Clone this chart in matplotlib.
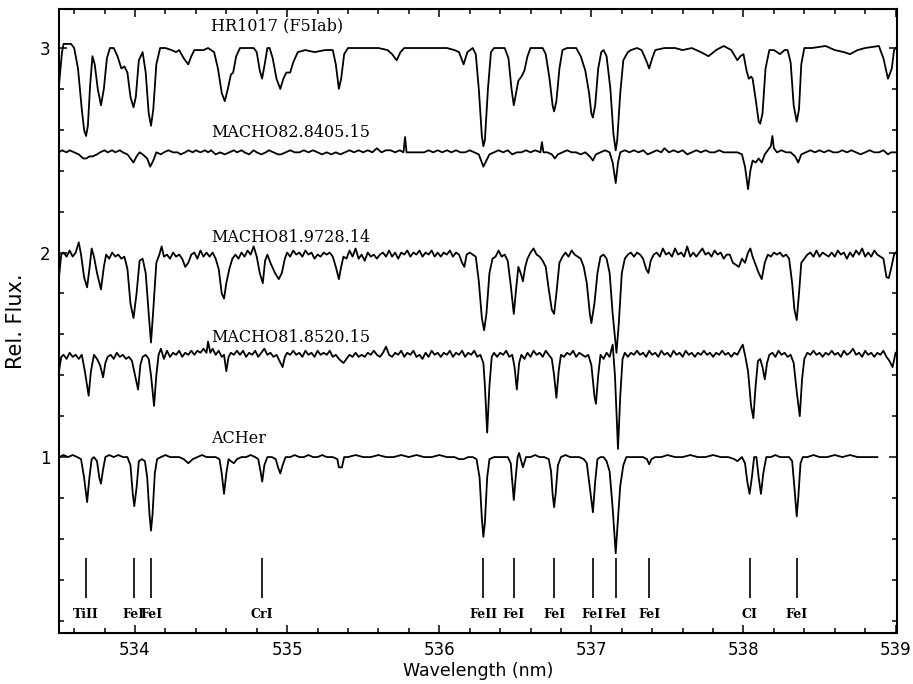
import matplotlib
matplotlib.use("Agg")
import matplotlib.pyplot as plt
from matplotlib.ticker import MultipleLocator

# HR1017 (F5Iab), continuum near 3.0
hr1017_wl = [
    533.50, 533.52, 533.53, 533.58, 533.60, 533.625, 533.65, 533.665, 533.678, 533.69,
    533.705, 533.72, 533.735, 533.755, 533.776, 533.795, 533.815, 533.835, 533.86, 533.885,
    533.91, 533.93, 533.95, 533.97, 533.99, 534.005, 534.025, 534.05, 534.07, 534.09,
    534.105, 534.12, 534.14, 534.165, 534.20, 534.24, 534.27, 534.29, 534.32, 534.35,
    534.37, 534.39, 534.45, 534.48, 534.52, 534.545, 534.57, 534.59, 534.61, 534.63,
    534.645, 534.665, 534.69, 534.74, 534.78, 534.80, 534.82, 534.835, 534.85, 534.87,
    534.885, 534.905, 534.93, 534.955, 534.975, 534.995, 535.02, 535.04, 535.07, 535.12,
    535.18, 535.25, 535.30, 535.32, 535.34, 535.355, 535.375, 535.40, 535.50, 535.60,
    535.66, 535.69, 535.72, 535.745, 535.77, 535.85, 535.95, 536.05, 536.10, 536.13,
    536.16, 536.185, 536.22, 536.24, 536.26, 536.28, 536.29, 536.30, 536.32, 536.34,
    536.36, 536.43, 536.455, 536.475, 536.49, 536.505, 536.52, 536.54, 536.56, 536.58,
    536.60, 536.68, 536.70, 536.725, 536.745, 536.755, 536.77, 536.79, 536.81, 536.84,
    536.90, 536.93, 536.96, 536.985, 537.00, 537.01, 537.025, 537.045, 537.065, 537.08,
    537.10, 537.125, 537.145, 537.16, 537.17, 537.19, 537.21, 537.24, 537.26, 537.30,
    537.33, 537.36, 537.38, 537.40, 537.42, 537.48, 537.55, 537.60, 537.66, 537.72,
    537.77, 537.82, 537.87, 537.92, 537.96, 537.98, 538.00, 538.02, 538.035, 538.05,
    538.06, 538.08, 538.10, 538.11, 538.125, 538.145, 538.17, 538.20, 538.24, 538.27,
    538.29, 538.31, 538.33, 538.35, 538.365, 538.38, 538.40, 538.45, 538.54, 538.60,
    538.66, 538.70, 538.75, 538.80, 538.89, 538.92, 538.95, 538.975, 538.99, 539.00,
]
hr1017_flux = [
    2.82, 2.98, 3.02, 3.02, 3.00, 2.90, 2.70, 2.60, 2.57, 2.62,
    2.82, 2.96, 2.92, 2.80, 2.72, 2.80, 2.95, 3.00, 3.00, 2.96,
    2.90, 2.91, 2.88, 2.76, 2.71, 2.76, 2.94, 2.98, 2.88, 2.68,
    2.62, 2.70, 2.92, 3.00, 3.00, 2.99, 2.98, 2.99, 2.95, 2.92,
    2.96, 2.99, 2.99, 3.00, 2.98, 2.90, 2.78, 2.74, 2.80, 2.87,
    2.88, 2.96, 3.00, 3.00, 3.00, 2.98, 2.89, 2.85, 2.91, 3.00,
    3.00, 2.95, 2.85, 2.80, 2.85, 2.88, 2.88, 2.93, 2.98, 2.99,
    2.98, 2.99, 2.99, 2.92, 2.80, 2.85, 2.97, 3.00, 3.00, 3.00,
    2.99, 2.97, 2.94, 2.98, 3.00, 3.00, 3.00, 3.00, 2.99, 2.98,
    2.92, 2.98, 3.00, 2.97, 2.80, 2.57, 2.52, 2.55, 2.80, 2.98,
    3.00, 3.00, 2.95, 2.80, 2.72, 2.78, 2.84, 2.86, 2.89, 2.96,
    3.00, 3.00, 2.97, 2.85, 2.72, 2.69, 2.74, 2.90, 2.99, 3.00,
    3.00, 2.96, 2.89, 2.78, 2.68, 2.66, 2.72, 2.90, 2.98, 2.99,
    2.96, 2.80, 2.58, 2.50, 2.55, 2.78, 2.94, 2.98, 2.99, 3.00,
    2.99, 2.94, 2.90, 2.95, 2.99, 3.00, 3.00, 2.99, 3.00, 2.98,
    2.96, 2.99, 3.01, 2.99, 2.94, 2.96, 2.97, 2.89, 2.85, 2.86,
    2.85, 2.75, 2.64, 2.63, 2.68, 2.90, 2.99, 2.99, 2.97, 2.99,
    2.99, 2.93, 2.72, 2.64, 2.70, 2.92, 3.00, 3.00, 3.01, 2.99,
    2.98, 2.97, 2.99, 3.00, 3.01, 2.95, 2.85, 2.90, 2.99, 3.00,
]

# MACHO82.8405.15, continuum near 2.49
m82_wl = [
    533.50, 533.52, 533.55, 533.57, 533.60, 533.63, 533.66, 533.68, 533.70, 533.72,
    533.75, 533.77, 533.80, 533.82, 533.85, 533.87, 533.90, 533.92, 533.95, 533.97,
    533.99, 534.01, 534.03, 534.05, 534.08, 534.10, 534.12, 534.14, 534.17, 534.19,
    534.22, 534.25, 534.28, 534.30, 534.33, 534.35, 534.38, 534.40, 534.43, 534.46,
    534.48, 534.50, 534.53, 534.56, 534.59, 534.62, 534.65, 534.67, 534.70, 534.72,
    534.75, 534.78, 534.80, 534.83, 534.86, 534.88, 534.91, 534.94, 534.96, 534.99,
    535.02, 535.05, 535.08, 535.11, 535.14, 535.17, 535.20, 535.23, 535.26, 535.29,
    535.32, 535.35, 535.38, 535.41, 535.44, 535.47, 535.50, 535.53, 535.56, 535.59,
    535.62, 535.65, 535.68, 535.71, 535.74, 535.765, 535.775, 535.785, 535.81, 535.84,
    535.87, 535.90, 535.93, 535.96, 535.99, 536.02, 536.05, 536.08, 536.11, 536.14,
    536.17, 536.20, 536.23, 536.26, 536.28, 536.29, 536.31, 536.33, 536.36, 536.39,
    536.42, 536.45, 536.48, 536.51, 536.54, 536.57, 536.60, 536.63, 536.665, 536.675,
    536.685, 536.71, 536.74, 536.76, 536.78, 536.81, 536.84, 536.87, 536.90, 536.93,
    536.96, 536.99, 537.01, 537.03, 537.06, 537.09, 537.12, 537.14, 537.16, 537.175,
    537.19, 537.22, 537.25, 537.28, 537.31, 537.34, 537.37, 537.40, 537.43, 537.46,
    537.48, 537.51, 537.54, 537.57, 537.60, 537.63, 537.66, 537.69, 537.72, 537.75,
    537.78, 537.81, 537.84, 537.87, 537.90, 537.93, 537.96, 537.99, 538.01, 538.03,
    538.045, 538.06, 538.08, 538.10, 538.12, 538.14, 538.16, 538.18, 538.19, 538.20,
    538.22, 538.25, 538.28, 538.31, 538.34, 538.36, 538.38, 538.41, 538.44, 538.47,
    538.50, 538.53, 538.56, 538.59, 538.62, 538.65, 538.68, 538.71, 538.74, 538.77,
    538.80, 538.83, 538.86, 538.89, 538.92, 538.95, 538.97, 539.00,
]
m82_flux = [
    2.49, 2.50, 2.49, 2.50, 2.49, 2.48, 2.46, 2.46, 2.47, 2.47,
    2.48, 2.49, 2.50, 2.49, 2.50, 2.49, 2.50, 2.49, 2.48, 2.46,
    2.44, 2.47, 2.49, 2.48, 2.46, 2.42, 2.45, 2.49, 2.48, 2.49,
    2.50, 2.49, 2.49, 2.48, 2.49, 2.50, 2.49, 2.50, 2.49, 2.50,
    2.49, 2.50, 2.48, 2.49, 2.48, 2.49, 2.50, 2.49, 2.50, 2.49,
    2.48, 2.50, 2.49, 2.48, 2.49, 2.50, 2.49, 2.48, 2.48, 2.49,
    2.50, 2.49, 2.49, 2.50, 2.49, 2.50, 2.49, 2.48, 2.49, 2.48,
    2.49, 2.48, 2.49, 2.50, 2.49, 2.50, 2.49, 2.50, 2.49, 2.51,
    2.49, 2.50, 2.50, 2.49, 2.50, 2.49, 2.565, 2.49, 2.49, 2.49,
    2.49, 2.49, 2.50, 2.49, 2.50, 2.49, 2.50, 2.49, 2.50, 2.49,
    2.49, 2.50, 2.49, 2.48, 2.44, 2.42, 2.45, 2.48, 2.49, 2.50,
    2.49, 2.50, 2.48, 2.49, 2.49, 2.50, 2.49, 2.50, 2.49, 2.54,
    2.49, 2.49, 2.48, 2.46, 2.48, 2.49, 2.50, 2.49, 2.49, 2.48,
    2.49, 2.47, 2.45, 2.48, 2.49, 2.50, 2.49, 2.44, 2.34, 2.44,
    2.49, 2.50, 2.49, 2.50, 2.49, 2.50, 2.48, 2.49, 2.50, 2.49,
    2.51, 2.49, 2.50, 2.49, 2.50, 2.48, 2.49, 2.50, 2.49, 2.50,
    2.49, 2.49, 2.50, 2.49, 2.49, 2.49, 2.49, 2.48, 2.42, 2.31,
    2.40, 2.45, 2.44, 2.46, 2.44, 2.48, 2.50, 2.52, 2.57, 2.51,
    2.49, 2.50, 2.49, 2.49, 2.47, 2.44, 2.48, 2.49, 2.50, 2.49,
    2.50, 2.49, 2.50, 2.49, 2.49, 2.50, 2.49, 2.50, 2.49, 2.48,
    2.49, 2.50, 2.49, 2.49, 2.50, 2.48, 2.49, 2.49,
]

# MACHO81.9728.14, continuum near 2.0
m9728_wl = [
    533.50, 533.515, 533.53, 533.55, 533.57, 533.59, 533.61, 533.63, 533.645, 533.665,
    533.685, 533.70, 533.715, 533.73, 533.75, 533.776, 533.795, 533.81, 533.83, 533.85,
    533.87, 533.89, 533.91, 533.93, 533.95, 533.97, 533.99, 534.01, 534.03, 534.05,
    534.07, 534.09, 534.105, 534.12, 534.14, 534.16, 534.175, 534.19, 534.21, 534.23,
    534.25, 534.27, 534.29, 534.31, 534.33, 534.35, 534.37, 534.39, 534.41, 534.43,
    534.45, 534.47, 534.49, 534.51, 534.53, 534.55, 534.57, 534.585, 534.60, 534.62,
    534.64, 534.66, 534.68, 534.70, 534.72, 534.74, 534.76, 534.78, 534.80, 534.82,
    534.84, 534.855, 534.87, 534.89, 534.92, 534.945, 534.965, 534.985, 535.00, 535.02,
    535.04, 535.06, 535.08, 535.10, 535.12, 535.14, 535.16, 535.18, 535.20, 535.22,
    535.24, 535.26, 535.28, 535.30, 535.32, 535.34, 535.355, 535.37, 535.39, 535.41,
    535.43, 535.45, 535.47, 535.49, 535.51, 535.53, 535.55, 535.57, 535.59, 535.61,
    535.63, 535.65, 535.67, 535.69, 535.71, 535.73, 535.75, 535.77, 535.79, 535.81,
    535.83, 535.85, 535.87, 535.89, 535.91, 535.93, 535.95, 535.97, 535.99, 536.01,
    536.03, 536.05, 536.07, 536.09, 536.11, 536.13, 536.15, 536.165, 536.18, 536.20,
    536.22, 536.24, 536.26, 536.28, 536.295, 536.31, 536.33, 536.35, 536.37, 536.39,
    536.41, 536.43, 536.45, 536.47, 536.49, 536.505, 536.52, 536.535, 536.55, 536.565,
    536.58, 536.60, 536.62, 536.64, 536.66, 536.68, 536.70, 536.72, 536.74, 536.755,
    536.77, 536.79, 536.81, 536.83, 536.85, 536.87, 536.89, 536.91, 536.93, 536.95,
    536.97, 536.99, 537.00, 537.02, 537.04, 537.06, 537.08, 537.10, 537.12, 537.14,
    537.165, 537.18, 537.20, 537.22, 537.24, 537.26, 537.28, 537.30, 537.32, 537.34,
    537.36, 537.375, 537.39, 537.41, 537.43, 537.45, 537.47, 537.49, 537.51, 537.53,
    537.55, 537.57, 537.59, 537.61, 537.63, 537.65, 537.67, 537.69, 537.71, 537.73,
    537.75, 537.77, 537.79, 537.81, 537.83, 537.85, 537.87, 537.89, 537.91, 537.93,
    537.95, 537.97, 537.99, 538.01, 538.03, 538.045, 538.06, 538.08, 538.10, 538.12,
    538.14, 538.16, 538.18, 538.20, 538.22, 538.24, 538.26, 538.28, 538.30, 538.32,
    538.335, 538.35, 538.365, 538.38, 538.40, 538.42, 538.44, 538.46, 538.48, 538.50,
    538.52, 538.54, 538.56, 538.58, 538.60, 538.62, 538.64, 538.66, 538.68, 538.70,
    538.72, 538.74, 538.76, 538.78, 538.80, 538.82, 538.84, 538.86, 538.88, 538.90,
    538.92, 538.94, 538.955, 538.97, 538.99, 539.00,
]
m9728_flux = [
    1.88, 1.99, 2.00, 1.98, 2.01, 1.98, 2.00, 2.05, 1.99, 1.88,
    1.83, 1.92, 2.02, 1.98, 1.90, 1.82, 1.93, 1.99, 1.97, 2.00,
    1.98, 1.99, 1.97, 1.98, 1.92, 1.75, 1.68, 1.80, 1.96, 1.97,
    1.90, 1.70, 1.56, 1.72, 1.95, 1.99, 2.03, 1.98, 1.99, 1.97,
    2.00, 1.98, 1.99, 1.97, 1.93, 1.95, 1.99, 2.00, 1.97, 2.01,
    1.98, 2.00, 1.98, 2.00, 1.97, 1.92, 1.80, 1.775, 1.85, 1.92,
    1.97, 1.99, 1.97, 2.00, 1.98, 2.01, 1.99, 2.03, 1.98, 1.90,
    1.85, 1.96, 1.99, 1.95, 1.90, 1.87, 1.90, 1.97, 2.00, 1.98,
    2.01, 1.99, 2.00, 1.98, 2.01, 1.99, 2.00, 1.97, 1.99, 1.98,
    2.00, 1.99, 2.00, 1.98, 1.93, 1.87, 1.93, 1.98, 1.97, 2.01,
    1.98, 2.02, 1.97, 1.99, 1.96, 2.00, 1.98, 1.99, 1.97, 1.99,
    2.00, 1.98, 2.01, 1.98, 2.00, 1.97, 2.00, 1.99, 2.01, 1.98,
    2.00, 1.99, 2.01, 1.98, 2.00, 1.99, 2.01, 1.98, 2.00, 1.98,
    2.00, 1.99, 2.01, 1.98, 2.00, 1.99, 1.95, 1.93, 1.99, 2.00,
    1.99, 1.98, 1.86, 1.68, 1.62, 1.70, 1.90, 1.97, 1.98, 2.01,
    1.98, 1.99, 1.96, 1.84, 1.70, 1.82, 1.93, 1.90, 1.86, 1.93,
    1.97, 2.00, 2.02, 1.99, 1.98, 1.96, 1.93, 1.82, 1.72, 1.70,
    1.80, 1.95, 1.98, 2.00, 1.98, 2.01, 1.99, 1.98, 1.97, 1.93,
    1.85, 1.70, 1.655, 1.75, 1.90, 1.98, 1.99, 1.97, 1.90, 1.70,
    1.51, 1.65, 1.90, 1.97, 1.99, 2.00, 1.98, 2.00, 1.99, 1.97,
    1.92, 1.90, 1.96, 1.99, 2.00, 1.98, 2.02, 1.99, 2.00, 1.98,
    2.02, 1.99, 2.00, 1.98, 2.03, 1.98, 2.00, 1.98, 2.00, 2.02,
    1.99, 2.00, 1.98, 2.01, 1.99, 2.00, 1.97, 1.99, 1.99, 1.95,
    1.94, 1.93, 1.97, 1.95, 2.00, 2.02, 1.98, 1.94, 1.90, 1.87,
    1.95, 1.99, 1.98, 2.00, 1.99, 2.00, 1.98, 1.99, 1.97, 1.85,
    1.72, 1.67, 1.80, 1.95, 1.97, 1.99, 2.00, 1.98, 2.01, 1.98,
    2.00, 1.99, 1.98, 2.00, 1.98, 2.01, 1.99, 2.00, 1.97, 2.00,
    1.98, 2.01, 1.99, 2.02, 1.98, 2.00, 1.98, 2.01, 1.99, 1.98,
    1.97, 1.88, 1.875, 1.92, 1.99, 2.00,
]

# MACHO81.8520.15, continuum near 1.5
m8520_wl = [
    533.50, 533.515, 533.53, 533.55, 533.57, 533.59, 533.61, 533.63, 533.65, 533.67,
    533.695, 533.71, 533.73, 533.75, 533.77, 533.79, 533.805, 533.82, 533.84, 533.86,
    533.88, 533.90, 533.92, 533.94, 533.96, 533.98, 534.00, 534.02, 534.035, 534.05,
    534.07, 534.09, 534.105, 534.125, 534.14, 534.155, 534.17, 534.19, 534.21, 534.23,
    534.25, 534.27, 534.29, 534.31, 534.33, 534.35, 534.37, 534.39, 534.41, 534.43,
    534.45, 534.47, 534.48, 534.495, 534.51, 534.53, 534.55, 534.57, 534.585, 534.60,
    534.615, 534.63, 534.65, 534.67, 534.69, 534.71, 534.73, 534.75, 534.77, 534.79,
    534.81, 534.83, 534.85, 534.87, 534.89, 534.91, 534.93, 534.95, 534.97, 534.985,
    535.00, 535.02, 535.04, 535.06, 535.08, 535.10, 535.12, 535.14, 535.16, 535.18,
    535.20, 535.22, 535.24, 535.26, 535.28, 535.30, 535.32, 535.34, 535.37, 535.39,
    535.41, 535.43, 535.45, 535.47, 535.49, 535.51, 535.53, 535.55, 535.57, 535.59,
    535.61, 535.63, 535.65, 535.67, 535.69, 535.71, 535.73, 535.75, 535.77, 535.79,
    535.81, 535.83, 535.85, 535.87, 535.89, 535.91, 535.93, 535.95, 535.97, 535.99,
    536.01, 536.03, 536.05, 536.07, 536.09, 536.11, 536.13, 536.15, 536.17, 536.19,
    536.21, 536.23, 536.25, 536.27, 536.29, 536.30, 536.315, 536.33, 536.345, 536.36,
    536.38, 536.40, 536.42, 536.44, 536.46, 536.48, 536.495, 536.51, 536.525, 536.54,
    536.56, 536.58, 536.60, 536.62, 536.64, 536.66, 536.68, 536.70, 536.72, 536.74,
    536.755, 536.77, 536.785, 536.80, 536.82, 536.84, 536.86, 536.88, 536.90, 536.92,
    536.94, 536.96, 536.98, 537.00, 537.02, 537.03, 537.045, 537.06, 537.08, 537.10,
    537.12, 537.14, 537.155, 537.175, 537.19, 537.205, 537.22, 537.24, 537.26, 537.28,
    537.30, 537.32, 537.34, 537.36, 537.38, 537.40, 537.42, 537.44, 537.46, 537.48,
    537.50, 537.52, 537.54, 537.56, 537.58, 537.60, 537.62, 537.64, 537.66, 537.68,
    537.70, 537.72, 537.74, 537.76, 537.78, 537.80, 537.82, 537.84, 537.86, 537.88,
    537.90, 537.92, 537.94, 537.96, 537.98, 537.995, 538.01, 538.03, 538.05, 538.065,
    538.08, 538.095, 538.11, 538.125, 538.14, 538.155, 538.17, 538.19, 538.21, 538.23,
    538.25, 538.27, 538.29, 538.31, 538.33, 538.35, 538.37, 538.385, 538.40, 538.42,
    538.44, 538.46, 538.48, 538.50, 538.52, 538.54, 538.56, 538.58, 538.60, 538.62,
    538.64, 538.66, 538.68, 538.70, 538.72, 538.74, 538.76, 538.78, 538.80, 538.82,
    538.84, 538.86, 538.88, 538.90, 538.92, 538.94, 538.96, 538.98, 539.00,
]
m8520_flux = [
    1.42, 1.49, 1.50, 1.48, 1.51, 1.49, 1.50, 1.48, 1.50, 1.42,
    1.30, 1.42, 1.50, 1.48, 1.45, 1.39, 1.46, 1.49, 1.50, 1.48,
    1.51, 1.49, 1.50, 1.48, 1.49, 1.47, 1.40, 1.33, 1.45, 1.49,
    1.50, 1.48, 1.40, 1.25, 1.40, 1.50, 1.53, 1.48, 1.52, 1.49,
    1.51, 1.50, 1.52, 1.49, 1.51, 1.50, 1.52, 1.50, 1.52, 1.51,
    1.53, 1.51, 1.565, 1.51, 1.53, 1.50, 1.52, 1.49, 1.50, 1.42,
    1.49, 1.51, 1.50, 1.52, 1.50, 1.52, 1.49, 1.51, 1.50, 1.52,
    1.49, 1.51, 1.53, 1.50, 1.51, 1.49, 1.50, 1.47, 1.44, 1.49,
    1.51, 1.50, 1.52, 1.50, 1.51, 1.49, 1.52, 1.50, 1.51, 1.49,
    1.52, 1.50, 1.51, 1.50, 1.52, 1.49, 1.50, 1.48, 1.46, 1.48,
    1.50, 1.49, 1.51, 1.49, 1.50, 1.49, 1.51, 1.50, 1.52, 1.50,
    1.49, 1.51, 1.54, 1.50, 1.49, 1.51, 1.50, 1.52, 1.49, 1.51,
    1.50, 1.52, 1.49, 1.50, 1.48, 1.51, 1.49, 1.52, 1.50, 1.51,
    1.49, 1.51, 1.50, 1.52, 1.49, 1.51, 1.50, 1.52, 1.49, 1.51,
    1.50, 1.52, 1.49, 1.50, 1.46, 1.35, 1.12, 1.35, 1.49, 1.51,
    1.49, 1.51, 1.50, 1.52, 1.49, 1.50, 1.44, 1.33, 1.46, 1.50,
    1.48, 1.51, 1.49, 1.52, 1.50, 1.51, 1.49, 1.52, 1.50, 1.48,
    1.40, 1.29, 1.42, 1.50, 1.49, 1.51, 1.50, 1.52, 1.49, 1.51,
    1.50, 1.49, 1.50, 1.45, 1.30, 1.26, 1.40, 1.50, 1.48, 1.51,
    1.49, 1.55, 1.40, 1.04, 1.30, 1.48, 1.51, 1.49, 1.51, 1.50,
    1.52, 1.50, 1.51, 1.49, 1.52, 1.50, 1.51, 1.49, 1.52, 1.50,
    1.51, 1.49, 1.52, 1.50, 1.51, 1.49, 1.52, 1.50, 1.51, 1.49,
    1.51, 1.50, 1.52, 1.50, 1.51, 1.49, 1.51, 1.50, 1.52, 1.50,
    1.51, 1.49, 1.51, 1.50, 1.53, 1.55, 1.50, 1.42, 1.25, 1.19,
    1.35, 1.47, 1.48, 1.44, 1.38, 1.46, 1.50, 1.51, 1.49, 1.52,
    1.50, 1.51, 1.49, 1.50, 1.46, 1.32, 1.20, 1.38, 1.48, 1.51,
    1.50, 1.52, 1.50, 1.51, 1.49, 1.51, 1.50, 1.52, 1.50, 1.51,
    1.49, 1.52, 1.50, 1.51, 1.53, 1.50, 1.51, 1.49, 1.52, 1.50,
    1.51, 1.49, 1.51, 1.50, 1.52, 1.49, 1.47, 1.44, 1.51,
]

# AC Her, continuum near 1.0
acher_wl = [
    533.50, 533.53, 533.56, 533.59, 533.62, 533.645, 533.665, 533.685, 533.70, 533.715,
    533.73, 533.75, 533.765, 533.776, 533.79, 533.805, 533.83, 533.86, 533.89, 533.92,
    533.95, 533.97, 533.985, 533.995, 534.01, 534.025, 534.045, 534.065, 534.08, 534.095,
    534.105, 534.115, 534.13, 534.145, 534.17, 534.20, 534.23, 534.26, 534.29, 534.32,
    534.35, 534.38, 534.41, 534.44, 534.47, 534.50, 534.53, 534.555, 534.57, 534.585,
    534.60, 534.615, 534.63, 534.65, 534.67, 534.70, 534.73, 534.76, 534.79, 534.81,
    534.825, 534.836, 534.85, 534.87, 534.90, 534.925, 534.94, 534.955, 534.97, 534.99,
    535.02, 535.05, 535.08, 535.11, 535.14, 535.17, 535.20, 535.23, 535.26, 535.30,
    535.33, 535.34, 535.36, 535.375, 535.40, 535.45, 535.50, 535.55, 535.60, 535.65,
    535.70, 535.75, 535.80, 535.85, 535.90, 535.95, 536.00, 536.05, 536.10, 536.13,
    536.16, 536.19, 536.22, 536.245, 536.265, 536.28, 536.29, 536.30, 536.315, 536.33,
    536.36, 536.39, 536.42, 536.45, 536.47, 536.48, 536.49, 536.50, 536.515, 536.525,
    536.55, 536.57, 536.60, 536.63, 536.66, 536.69, 536.72, 536.735, 536.745, 536.755,
    536.765, 536.78, 536.80, 536.83, 536.86, 536.89, 536.92, 536.95, 536.97, 536.99,
    537.01, 537.025, 537.04, 537.06, 537.08, 537.10, 537.12, 537.14, 537.16, 537.175,
    537.19, 537.21, 537.23, 537.26, 537.30, 537.34, 537.365, 537.38, 537.395, 537.42,
    537.46, 537.50, 537.55, 537.60, 537.65, 537.70, 537.75, 537.80, 537.85, 537.90,
    537.94, 537.96, 537.99, 538.01, 538.025, 538.04, 538.055, 538.07, 538.085, 538.10,
    538.115, 538.13, 538.15, 538.18, 538.21, 538.24, 538.27, 538.30, 538.32, 538.335,
    538.35, 538.36, 538.375, 538.39, 538.42, 538.46, 538.50, 538.55, 538.60, 538.65,
    538.70, 538.75, 538.80, 538.85, 538.88,
]
acher_flux = [
    1.00, 1.01, 1.00, 1.01, 1.00, 0.99, 0.90, 0.78, 0.90, 0.99,
    1.00, 0.98, 0.90, 0.87, 0.94, 1.00, 1.01, 1.00, 1.01, 1.00,
    1.00, 0.96, 0.82, 0.76, 0.85, 0.98, 0.99, 0.98, 0.90, 0.72,
    0.64, 0.72, 0.92, 0.99, 1.00, 1.01, 1.00, 1.00, 1.00, 0.99,
    0.97, 0.99, 1.00, 1.01, 1.00, 1.00, 1.00, 0.99, 0.92, 0.82,
    0.92, 0.99, 0.98, 0.97, 0.99, 1.00, 1.00, 1.01, 1.00, 0.99,
    0.93, 0.88, 0.96, 1.00, 1.00, 0.99, 0.95, 0.92, 0.96, 1.00,
    1.00, 1.01, 1.00, 1.00, 1.01, 1.00, 1.00, 1.01, 1.00, 1.00,
    0.99, 0.95, 0.95, 1.00, 1.00, 1.01, 1.00, 1.00, 1.01, 1.00,
    1.00, 1.01, 1.00, 1.01, 1.00, 1.00, 1.01, 1.00, 1.00, 0.99,
    0.99, 1.00, 1.00, 0.99, 0.90, 0.70, 0.61, 0.68, 0.90, 0.99,
    1.00, 1.00, 1.00, 1.00, 0.97, 0.88, 0.79, 0.88, 1.00, 1.02,
    0.95, 1.00, 1.00, 1.01, 1.00, 1.00, 0.99, 0.93, 0.82, 0.755,
    0.82, 0.96, 1.00, 1.01, 1.00, 1.00, 1.00, 0.99, 0.97, 0.85,
    0.73, 0.88, 0.99, 1.00, 1.00, 0.98, 0.93, 0.75, 0.53, 0.70,
    0.86, 0.96, 1.00, 1.00, 1.00, 1.00, 0.99, 0.965, 0.99, 1.00,
    1.00, 1.01, 1.00, 1.00, 1.01, 1.00, 1.00, 1.01, 1.00, 1.00,
    0.99, 0.98, 1.00, 0.97, 0.88, 0.82, 0.90, 1.00, 1.00, 0.90,
    0.82, 0.92, 1.00, 1.00, 1.01, 1.00, 1.00, 1.00, 0.98, 0.85,
    0.71, 0.80, 0.97, 1.00, 1.00, 1.01, 1.00, 1.00, 1.01, 1.00,
    1.01, 1.00, 1.00, 1.00, 1.00,
]

star_names = ["HR1017 (F5Iab)", "MACHO82.8405.15", "MACHO81.9728.14", "MACHO81.8520.15", "ACHer"]
star_label_flux = [3.11, 2.585, 2.076, 1.587, 1.093]
label_wl = 534.5

line_ids = ["TiII", "FeI", "FeI", "CrI", "FeII", "FeI", "FeI", "FeI", "FeI", "FeI", "CI", "FeI"]
line_wl = [533.678, 533.99, 534.105, 534.836, 536.29, 536.49, 536.755, 537.01, 537.16, 537.38, 538.04, 538.35]
tick_lo, tick_hi, id_y = 0.31, 0.505, 0.23


def main() -> None:
    fig = plt.figure(figsize=(9.13, 6.84), dpi=100)
    ax = fig.add_axes([0.0646, 0.0746, 0.918, 0.912])

    spectra = [
        (hr1017_wl, hr1017_flux),
        (m82_wl, m82_flux),
        (m9728_wl, m9728_flux),
        (m8520_wl, m8520_flux),
        (acher_wl, acher_flux),
    ]
    for wl, flux in spectra:
        ax.plot(wl, flux, color="black", linewidth=1.3)

    for name, y in zip(star_names, star_label_flux):
        ax.text(label_wl, y, name, ha="left", va="center", fontsize=11.5, family="DejaVu Serif")

    ax.vlines(line_wl, tick_lo, tick_hi, color="black", linewidth=1.2)
    for name, x in zip(line_ids, line_wl):
        ax.text(x, id_y, name, ha="center", va="center", fontsize=9, fontweight="bold",
                family="DejaVu Serif")

    ax.set_xlim(533.5, 539.01)
    ax.set_ylim(0.14, 3.19)
    ax.xaxis.set_major_locator(MultipleLocator(1))
    ax.xaxis.set_minor_locator(MultipleLocator(0.2))
    ax.yaxis.set_major_locator(MultipleLocator(1))
    ax.yaxis.set_minor_locator(MultipleLocator(0.2))
    ax.tick_params(which="both", direction="in", top=True, right=True, width=1.1)
    ax.tick_params(which="major", length=6, labelsize=12, pad=6)
    ax.tick_params(which="minor", length=3.5)
    for s in ax.spines.values():
        s.set_linewidth(1.5)

    ax.set_xlabel("Wavelength (nm)", fontsize=12.5, labelpad=2)
    ax.set_ylabel("Rel. Flux.", fontsize=15, labelpad=10)

    fig.savefig("out.png", dpi=100)


if __name__ == "__main__":
    main()
